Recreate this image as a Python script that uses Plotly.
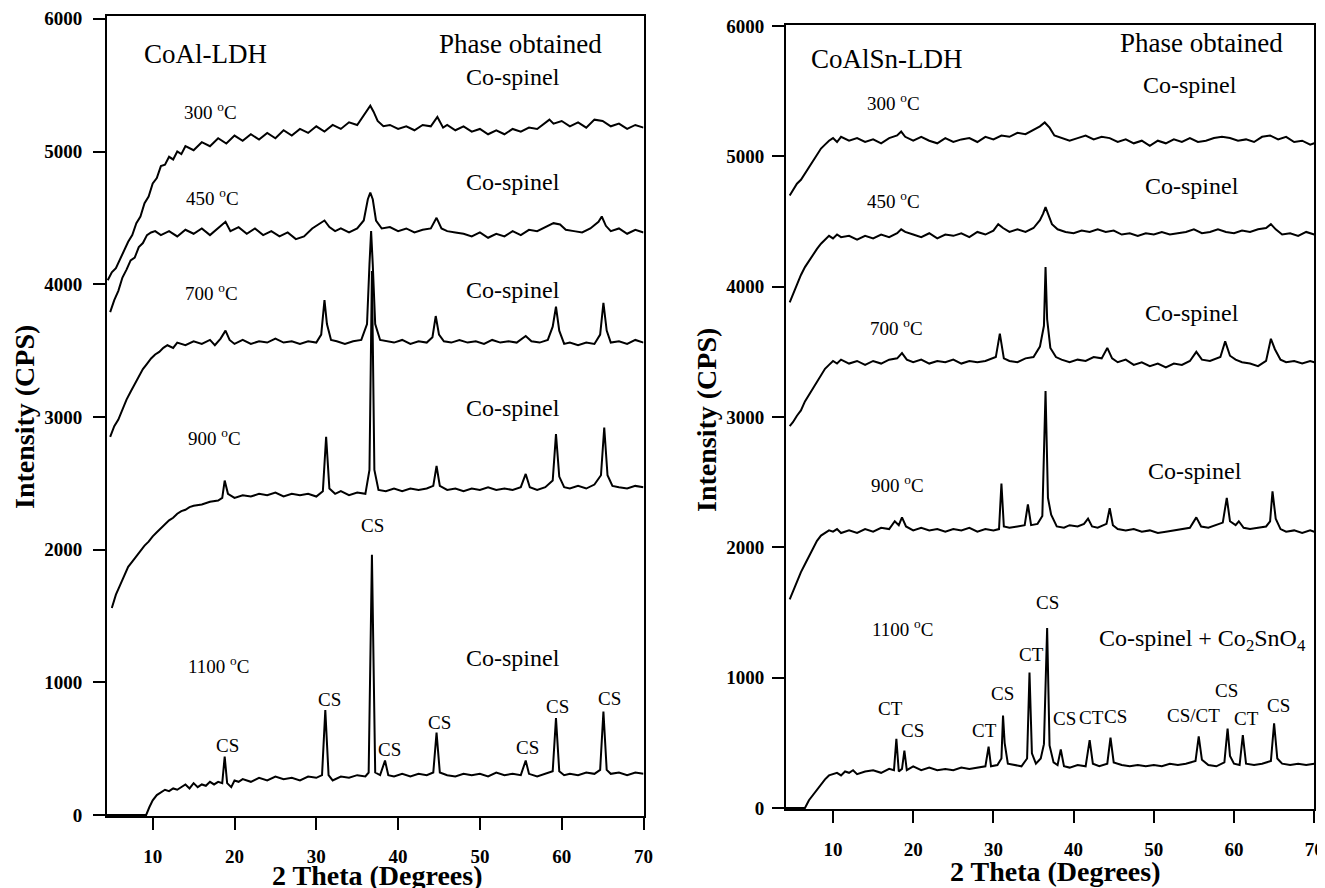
import plotly.graph_objects as go

# ---------------- data ----------------
# CoAl-LDH panel
coal_300_x = [4.5,5.0,5.5,6.0,6.5,7.0,7.5,8.0,8.5,9.0,9.5,10.0,10.5,11.0,11.5,12.0,12.5,13.0,13.5,14.0,15,16,17,18,19,20,21,22,23,24,25,26,27,28,29,30,31,32,33,34,35,35.7,36.2,36.6,37.0,37.5,38.2,39,40,41,42,43,44,44.8,45.5,46,47,48,49,50,51,52,53,54,55,56,57,58,58.5,59,60,61,62,63,64,65,66,67,68,69,70]
coal_300_y = [4030,4090,4120,4190,4250,4320,4370,4460,4510,4610,4660,4760,4800,4890,4900,4960,4940,5000,4980,5040,5010,5070,5040,5100,5060,5120,5080,5130,5090,5140,5100,5160,5120,5170,5140,5190,5150,5200,5170,5220,5200,5260,5310,5345,5300,5230,5190,5200,5170,5190,5160,5200,5190,5260,5180,5200,5160,5190,5150,5170,5130,5160,5130,5170,5150,5180,5170,5220,5240,5210,5230,5190,5220,5180,5240,5230,5190,5210,5170,5200,5180]

coal_450_x = [4.8,5.3,5.8,6.3,6.8,7.3,7.8,8.3,8.8,9.3,9.8,10.3,11,12,13,14,15,16,17,18,18.9,19.5,20.5,21.5,22.5,23.5,24.5,25.5,26.5,27.5,28.5,29.5,30.5,31,31.6,32.3,33,34,35,35.8,36.3,36.6,36.9,37.3,38,39,40,41,42,43,44,44.7,45.3,46,47,48,49,50,51,52,53,54,55,56,57,58,59,59.8,60.5,61.5,62.5,63.5,64.5,64.9,65.4,66,67,68,69,70]
coal_450_y = [3790,3880,3950,4050,4110,4180,4200,4280,4310,4370,4390,4400,4370,4400,4360,4410,4380,4420,4370,4420,4470,4400,4430,4380,4420,4370,4400,4360,4390,4340,4360,4420,4460,4480,4430,4400,4420,4390,4420,4480,4640,4690,4640,4480,4420,4430,4400,4420,4390,4410,4420,4500,4420,4400,4390,4380,4360,4390,4350,4380,4360,4400,4370,4410,4400,4430,4460,4450,4410,4400,4390,4420,4470,4510,4440,4400,4420,4380,4410,4390]

coal_700_x = [4.8,5.3,5.8,6.3,6.8,7.3,7.8,8.3,8.8,9.3,9.8,10.3,10.8,11.3,11.8,12.5,13,14,15,16,17,17.6,18.3,18.9,19.4,20,21,22,23,24,25,26,27,28,29,30,30.6,31,31.3,31.8,32.5,33.5,34.5,35.5,36.2,36.5,36.7,36.9,37.2,37.8,38.5,39.5,40.5,41.5,42.5,43.5,44.2,44.6,45,45.6,46.5,47.5,48.5,49.5,50.5,51.5,52.5,53.5,54.5,55.6,56.3,57.3,58.3,58.9,59.3,59.7,60.3,61,62,63,64,64.7,65.1,65.5,66,67,68,69,70]
coal_700_y = [2850,2930,2980,3060,3130,3190,3250,3300,3360,3400,3440,3470,3490,3520,3540,3520,3560,3540,3570,3550,3580,3540,3590,3650,3580,3550,3580,3550,3570,3560,3590,3560,3570,3550,3570,3560,3620,3880,3700,3580,3570,3550,3570,3580,3700,4150,4400,4150,3700,3580,3570,3560,3580,3550,3570,3560,3600,3760,3620,3570,3560,3580,3560,3570,3550,3580,3560,3570,3560,3610,3570,3560,3580,3680,3830,3650,3550,3560,3540,3560,3550,3620,3860,3650,3560,3570,3550,3580,3560]

coal_900_x = [5.0,5.5,6.0,6.5,7.0,7.5,8.0,8.5,9.0,9.5,10.0,10.5,11,11.5,12,12.5,13,13.5,14,14.5,15,16,17,18,18.5,18.8,19.2,20,21,22,23,24,25,26,27,28,29,30,30.8,31.2,31.6,32.3,33,34,35,36,36.5,36.8,37.1,37.6,38.5,39.5,40.5,41.5,42.5,43.5,44.3,44.7,45.1,46,47,48,49,50,51,52,53,54,55,55.6,56.1,57,58,58.9,59.3,59.7,60.3,61,62,63,64,64.8,65.2,65.6,66.2,67,68,69,70]
coal_900_y = [1560,1660,1730,1800,1870,1910,1950,1990,2030,2060,2100,2130,2160,2190,2220,2240,2270,2290,2300,2320,2330,2340,2360,2370,2390,2520,2420,2390,2410,2400,2420,2410,2430,2400,2420,2410,2420,2400,2440,2850,2460,2420,2440,2410,2430,2420,2600,4100,2600,2450,2440,2460,2440,2460,2450,2460,2480,2630,2480,2450,2460,2440,2460,2450,2470,2450,2460,2450,2470,2570,2470,2450,2470,2520,2870,2550,2470,2460,2480,2460,2490,2560,2920,2560,2480,2470,2460,2480,2470]

coal_1100_x = [4.4,9.2,9.6,10.0,10.5,11,11.5,12,12.5,13,13.5,14,14.5,15,15.5,16,16.5,17,17.5,18,18.5,18.8,19.1,19.6,20,20.5,21,22,23,24,25,26,27,28,29,30,30.7,31.1,31.5,32,33,34,35,36,36.4,36.8,37.2,37.8,38.4,38.8,39.5,40.5,41.5,42.5,43.5,44.3,44.7,45.1,46,47,48,49,50,51,52,53,54,55,55.6,56,57,58,58.9,59.3,59.7,60.3,61,62,63,64,64.7,65.1,65.5,66,67,68,69,70]
coal_1100_y = [0,0,60,110,150,170,190,180,200,190,210,230,200,240,210,230,220,250,230,250,240,440,240,210,260,250,270,250,280,260,290,270,280,260,290,280,300,790,300,260,290,280,300,290,320,1960,320,300,410,300,290,310,290,310,300,320,620,320,300,290,310,300,310,290,320,300,310,300,410,310,290,310,330,730,330,300,310,300,320,310,340,780,340,310,320,300,320,310]

# CoAlSn-LDH panel
snl_300_x = [4.6,5.0,5.5,6.0,6.5,7.0,7.5,8.0,8.5,9.0,9.5,10,10.5,11,12,13,14,15,16,17,18,18.5,19,20,21,22,23,24,25,26,27,28,29,30,31,32,33,34,35,35.8,36.4,37,37.6,38.5,39.5,40.5,41.5,42.5,43.5,44.5,45.5,46.5,47.5,48.5,49.5,50.5,51.5,52.5,53.5,54.5,55.5,56.5,57.5,58.5,59.5,60.5,61.5,62.5,63.5,64.5,65.5,66.5,67.5,68.5,69.5,70]
snl_300_y = [4700,4740,4790,4820,4870,4920,4960,5010,5060,5090,5120,5140,5110,5150,5120,5140,5110,5130,5100,5140,5160,5190,5150,5120,5150,5120,5100,5140,5110,5130,5140,5110,5150,5130,5160,5150,5180,5170,5200,5230,5260,5220,5160,5140,5120,5140,5160,5130,5150,5140,5110,5130,5100,5120,5080,5120,5100,5130,5110,5140,5110,5120,5140,5150,5140,5120,5130,5110,5150,5160,5130,5150,5110,5120,5090,5100]

snl_450_x = [4.6,5.0,5.5,6.0,6.5,7.0,7.5,8.0,8.5,9.0,9.5,10,10.5,11,12,13,14,15,16,17,18,18.5,19,20,21,22,23,24,25,26,27,28,29,30,30.6,31.2,32,33,34,35,35.8,36.2,36.5,36.8,37.3,38,39,40,41,42,43,44,45,46,47,48,49,50,51,52,53,54,55,56,57,58,59,60,61,62,63,64,64.6,65.2,66,67,68,69,70]
snl_450_y = [3880,3940,4030,4090,4150,4200,4250,4290,4330,4360,4390,4370,4400,4380,4390,4360,4390,4370,4400,4380,4410,4440,4420,4400,4380,4410,4370,4400,4390,4410,4380,4420,4400,4430,4480,4450,4420,4440,4420,4450,4510,4560,4610,4560,4480,4440,4420,4410,4430,4420,4440,4420,4430,4400,4410,4390,4410,4400,4420,4400,4410,4420,4440,4410,4420,4440,4420,4410,4430,4420,4440,4450,4480,4440,4400,4410,4390,4420,4400]

snl_700_x = [4.6,5.0,5.5,6.0,6.5,7.0,7.5,8.0,8.5,9.0,9.5,10,10.5,11,12,13,14,15,16,17,18,18.6,19.2,20,21,22,23,24,25,26,27,28,29,30.3,30.8,31.3,32,33,34,35,35.8,36.3,36.5,36.7,37.1,37.8,38.5,39.5,40.5,41.5,42.5,43.5,44.2,44.8,45.5,46.5,47.5,48.5,49.5,50.5,51.5,52.5,53.5,54.5,55.3,56,57,58.3,58.9,59.5,60.2,61,62,63,64,64.6,65.1,65.8,66.5,67.5,68.5,69.5,70]
snl_700_y = [2930,2960,3010,3050,3120,3170,3230,3280,3320,3370,3400,3430,3410,3440,3410,3430,3400,3430,3410,3440,3450,3490,3440,3420,3440,3410,3430,3420,3440,3410,3430,3420,3430,3460,3640,3450,3430,3420,3450,3460,3540,3700,4150,3750,3530,3460,3440,3420,3440,3430,3460,3450,3530,3450,3420,3440,3400,3420,3390,3410,3380,3410,3400,3430,3500,3440,3430,3460,3580,3470,3440,3420,3410,3390,3430,3600,3520,3440,3420,3430,3410,3430,3420]

snl_900_x = [4.6,5.0,5.5,6.0,6.5,7.0,7.5,8.0,8.5,9.0,9.5,10,10.5,11,12,13,14,15,16,17,17.7,18.2,18.6,19.1,20,21,22,23,24,25,26,27,28,29,30,30.7,31,31.3,32,33,33.9,34.3,34.7,35.5,36.1,36.5,36.8,37.2,37.9,38.8,39.5,40.5,41.3,41.8,42.3,43,44.1,44.5,44.9,45.5,46.5,47.5,48.5,49.5,50.5,51.5,52.5,53.5,54.5,55.3,55.9,56.8,57.8,58.6,59.1,59.5,60.2,60.6,61.2,62,63,64,64.5,64.8,65.2,65.8,66.5,67.5,68.5,69.5,70]
snl_900_y = [1600,1660,1740,1810,1870,1930,1990,2050,2090,2110,2130,2120,2140,2110,2130,2110,2140,2120,2150,2140,2200,2170,2230,2160,2130,2150,2130,2140,2120,2140,2130,2150,2120,2140,2130,2140,2490,2160,2150,2160,2170,2330,2170,2180,2240,3200,2380,2250,2160,2150,2170,2160,2180,2220,2160,2150,2180,2300,2170,2140,2130,2140,2120,2130,2110,2120,2130,2140,2150,2230,2160,2150,2170,2190,2380,2200,2170,2200,2150,2140,2150,2160,2200,2430,2220,2140,2120,2130,2110,2130,2120]

snl_1100_x = [4.1,6.5,7.0,7.5,8.0,8.5,9.0,9.5,10,10.5,11,11.5,12,12.5,13,14,15,16,17,17.6,17.9,18.2,18.6,18.9,19.2,20,21,22,23,24,25,26,27,28,29,29.4,29.7,30.5,31.0,31.2,31.4,31.8,32.5,33.5,34.2,34.5,34.8,35.3,35.9,36.3,36.7,37.0,37.5,38,38.4,38.8,39.5,40.5,41.5,42,42.4,43.2,44.2,44.6,45.0,46,47,48,49,50,51,52,53,54,55.2,55.6,56.0,56.8,57.8,58.8,59.2,59.5,60,60.7,61.1,61.5,62.5,63.5,64.6,65.0,65.4,66,67,68,69,70]
snl_1100_y = [0,0,60,100,140,180,220,250,260,270,250,280,270,290,260,280,290,270,300,290,530,280,300,440,290,320,290,310,290,300,290,310,300,310,320,470,320,330,380,710,500,340,330,320,380,1040,420,340,380,490,1380,480,350,330,450,320,310,330,320,520,340,320,340,540,350,330,320,330,320,330,320,340,330,340,360,550,370,330,320,350,610,400,340,330,560,340,330,340,360,650,380,340,330,340,330,340]

temps = ["300", "450", "700", "900", "1100"]
x_ticks = [10, 20, 30, 40, 50, 60, 70]
y_ticks = [0, 1000, 2000, 3000, 4000, 5000, 6000]

# annotation text positions (data coordinates)
left_temp_pos = [(17.1, 5305), (17.3, 4657), (17.2, 3941), (17.6, 2849), (18.1, 1130)]
left_phase_pos = [(54.1, 5561), (54.1, 4770), (54.1, 3956), (54.1, 3067), (54.1, 1183)]
left_cs_pos = [(19.1, 520), (31.6, 867), (36.9, 2185), (39.0, 497), (45.1, 700), (55.8, 505), (59.5, 814), (65.9, 880)]
right_temp_pos = [(17.6, 5417), (17.6, 4665), (17.9, 3690), (18.1, 2486), (18.7, 1381)]
right_phase_pos = [(54.5, 5547), (54.8, 4773), (54.8, 3798), (55.1, 2586)]
right_peak_labels = [("CT", 17.2, 760), ("CS", 19.9, 591), ("CT", 28.95, 591), ("CS", 31.1, 875),
                     ("CT", 34.7, 1174), ("CS", 36.8, 1573), ("CS", 38.9, 690), ("CT", 42.2, 698),
                     ("CS", 45.2, 705), ("CS/CT", 54.9, 706), ("CS", 59.1, 898), ("CT", 61.6, 690),
                     ("CS", 65.5, 790)]

# ---------------- layout geometry ----------------
# the page body has an 8px margin, so the figure starts at (8, 8) in the window
OFF = 8
W, H = 1325 - OFF, 888 - OFF
FONT = "Liberation Serif"

def px_dom(a, b):
    return [(a - OFF) / W, (b - OFF) / W]

def py_dom(top, bottom):
    return [1 - (bottom - OFF) / H, 1 - (top - OFF) / H]

def pap_x(px):
    return (px - OFF) / W

def pap_y(py):
    return 1 - (py - OFF) / H

fig = go.Figure()

left_series = [(coal_300_x, coal_300_y), (coal_450_x, coal_450_y), (coal_700_x, coal_700_y),
               (coal_900_x, coal_900_y), (coal_1100_x, coal_1100_y)]
right_series = [(snl_300_x, snl_300_y), (snl_450_x, snl_450_y), (snl_700_x, snl_700_y),
                (snl_900_x, snl_900_y), (snl_1100_x, snl_1100_y)]

for xs, ys in left_series:
    fig.add_trace(go.Scatter(x=xs, y=ys, mode="lines", xaxis="x", yaxis="y",
                             line=dict(color="black", width=2), showlegend=False,
                             hoverinfo="skip"))
for xs, ys in right_series:
    fig.add_trace(go.Scatter(x=xs, y=ys, mode="lines", xaxis="x2", yaxis="y2",
                             line=dict(color="black", width=2), showlegend=False,
                             hoverinfo="skip"))

tickfont = dict(family=FONT, size=19, color="black", weight="bold")
axis_common = dict(showline=True, linecolor="black", linewidth=1.5, mirror=True,
                   ticks="outside", ticklen=12, tickwidth=1.5, tickcolor="black",
                   showgrid=False, zeroline=False, tickfont=tickfont, automargin=False)

fig.update_layout(
    width=W, height=H,
    margin=dict(l=0, r=0, t=0, b=0),
    paper_bgcolor="white", plot_bgcolor="white",
    xaxis=dict(domain=px_dom(106.9, 643.5), range=[4.4, 70], tickvals=x_ticks,
               anchor="y", ticklabelstandoff=10, **axis_common),
    yaxis=dict(domain=py_dom(16.15, 816.3), range=[-10, 6020], tickvals=y_ticks,
               anchor="x", ticklabelstandoff=7, **axis_common),
    xaxis2=dict(domain=px_dom(785.7, 1314.2), range=[4.1, 70], tickvals=x_ticks,
                anchor="y2", ticklabelstandoff=10, **axis_common),
    yaxis2=dict(domain=py_dom(24.7, 809.3), range=[-10, 6010], tickvals=y_ticks,
                anchor="x2", ticklabelstandoff=4, **axis_common),
)

ann = []

def add(text, x, y, size, xr="x", yr="y", bold=False, **kw):
    d = dict(text=text, x=x, y=y, xref=xr, yref=yr, showarrow=False,
             font=dict(family=FONT, size=size, color="black", weight="bold" if bold else "normal"),
             xanchor="center", yanchor="middle")
    d.update(kw)
    ann.append(d)

# left panel
add("CoAl-LDH", 16.4, 5735, 27)
add("Phase obtained", 55.0, 5810, 27)
for t, (x, y) in zip(temps, left_temp_pos):
    add(f"{t} <sup>o</sup>C", x, y, 19)
for (x, y) in left_phase_pos:
    add("Co-spinel", x, y, 24)
for (x, y) in left_cs_pos:
    add("CS", x, y, 19)

# right panel
add("CoAlSn-LDH", 16.7, 5747, 27, "x2", "y2")
add("Phase obtained", 56.0, 5870, 27, "x2", "y2")
for t, (x, y) in zip(temps, right_temp_pos):
    add(f"{t} <sup>o</sup>C", x, y, 19, "x2", "y2")
for (x, y) in right_phase_pos:
    add("Co-spinel", x, y, 24, "x2", "y2")
add("Co-spinel + Co<sub>2</sub>SnO<sub>4</sub>", 56.1, 1289, 24, "x2", "y2")
for (txt, x, y) in right_peak_labels:
    add(txt, x, y, 19, "x2", "y2")

# axis titles
add("Intensity (CPS)", pap_x(24), pap_y(417), 28, "paper", "paper", bold=True, textangle=-90)
add("Intensity (CPS)", pap_x(706), pap_y(420), 28, "paper", "paper", bold=True, textangle=-90)
add("2 Theta (Degrees)", pap_x(377), pap_y(875), 28, "paper", "paper", bold=True)
add("2 Theta (Degrees)", pap_x(1055), pap_y(871), 28, "paper", "paper", bold=True)

fig.update_layout(annotations=ann)
fig.write_html("out.html")
